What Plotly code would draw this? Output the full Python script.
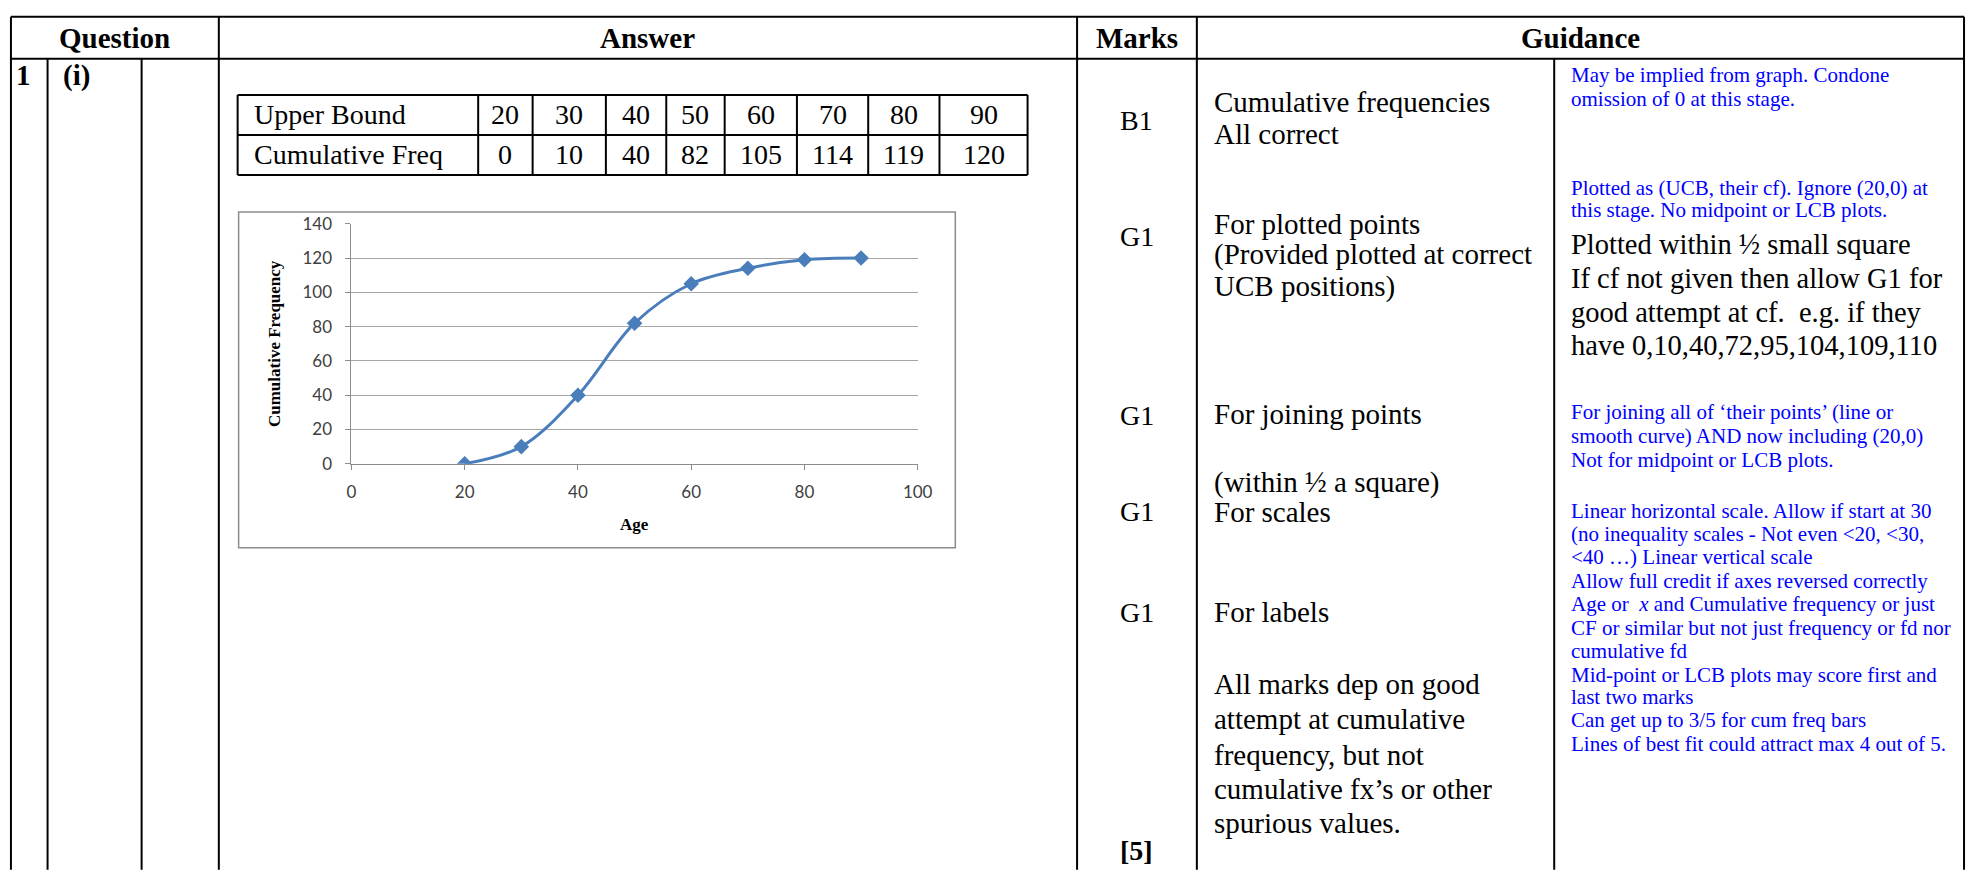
import plotly.graph_objects as go

W, H = 1982, 871

# ---------------- data ----------------
upper_bound = [20, 30, 40, 50, 60, 70, 80, 90]
cum_freq = [0, 10, 40, 82, 105, 114, 119, 120]
x_tick_vals = [0, 20, 40, 60, 80, 100]
y_tick_vals = [0, 20, 40, 60, 80, 100, 120, 140]
row_labels = ["Upper Bound", "Cumulative Freq"]
headers = ["Question", "Answer", "Marks", "Guidance"]
marks = ["B1", "G1", "G1", "G1", "G1"]
total_mark = "[5]"

answer_lines = [
    "Cumulative frequencies", "All correct",
    "For plotted points", "(Provided plotted at correct", "UCB positions)",
    "For joining points", "(within ½ a square)", "For scales", "For labels",
    "All marks dep on good", "attempt at cumulative", "frequency, but not",
    "cumulative fx’s or other", "spurious values.",
]
guidance_lines = [
    ("May be implied from graph. Condone", "blue"),
    ("omission of 0 at this stage.", "blue"),
    ("Plotted as (UCB, their cf). Ignore (20,0) at", "blue"),
    ("this stage. No midpoint or LCB plots.", "blue"),
    ("Plotted within ½ small square", "black"),
    ("If cf not given then allow G1 for", "black"),
    ("good attempt at cf.  e.g. if they", "black"),
    ("have 0,10,40,72,95,104,109,110", "black"),
    ("For joining all of ‘their points’ (line or", "blue"),
    ("smooth curve) AND now including (20,0)", "blue"),
    ("Not for midpoint or LCB plots.", "blue"),
    ("Linear horizontal scale. Allow if start at 30", "blue"),
    ("(no inequality scales - Not even &lt;20, &lt;30,", "blue"),
    ("&lt;40 …) Linear vertical scale", "blue"),
    ("Allow full credit if axes reversed correctly", "blue"),
    ("Age or  <i>x</i> and Cumulative frequency or just", "blue"),
    ("CF or similar but not just frequency or fd nor", "blue"),
    ("cumulative fd", "blue"),
    ("Mid-point or LCB plots may score first and", "blue"),
    ("last two marks", "blue"),
    ("Can get up to 3/5 for cum freq bars", "blue"),
    ("Lines of best fit could attract max 4 out of 5.", "blue"),
]

# ---------------- layout geometry (pixels) ----------------
answer_y = [93, 126, 218, 250, 282, 413, 483, 513, 616, 690, 726, 762, 797, 832]
marks_y = [112, 231, 414, 513, 616]
guid_y = [66, 90, 181, 204, 239, 274, 309, 343, 411, 435, 460, 512, 536, 560,
          584, 608, 632, 656, 680, 703, 727, 751]
tbl_cols = [235, 478, 533, 607, 668, 727, 800, 872, 944, 1033]
tbl_rows = [86, 127, 168]

SERIF = "Liberation Serif"
BLUE = "#0000FF"
CHART_BLUE = "#4A7EBB"

L, R, TOP, HDR, BOT = 6, 1979, 6, 49, 880
C_Q1, C_Q2, C_ANS, C_MK, C_GD, C_GSPLIT = 43, 138, 216, 1083, 1204, 1565


def px(x):
    return x / W


def py(y):
    return 1 - y / H


shapes = []
annos = []


def hline(x0, x1, y, w=2, c="black"):
    shapes.append(dict(type="line", xref="paper", yref="paper", x0=px(x0), x1=px(x1),
                       y0=py(y), y1=py(y), line=dict(color=c, width=w)))


def vline(x, y0, y1, w=2, c="black"):
    shapes.append(dict(type="line", xref="paper", yref="paper", x0=px(x), x1=px(x),
                       y0=py(y0), y1=py(y1), line=dict(color=c, width=w)))


def text(x, y, s, size=29, color="black", anchor="left", bold=False):
    if bold:
        s = "<b>" + s + "</b>"
    annos.append(dict(x=px(x), y=py(y), xref="paper", yref="paper", text=s,
                      showarrow=False, xanchor=anchor, yanchor="middle",
                      font=dict(family=SERIF, size=size, color=color)))


# outer table grid
hline(L, R, TOP)
hline(L, R, HDR)
for x in [L, C_ANS, C_MK, C_GD, R]:
    vline(x, TOP, BOT)
for x in [C_Q1, C_Q2, C_GSPLIT]:
    vline(x, HDR, BOT)

# headers
hdr_x = [(L + C_ANS) / 2, (C_ANS + C_MK) / 2, (C_MK + C_GD) / 2, (C_GD + R) / 2]
for hx, h in zip(hdr_x, headers):
    text(hx, 28, h, size=29, anchor="center", bold=True)

text(19, 66, "1", size=29, anchor="center", bold=True)
text(C_Q1 + 14, 66, "(i)", size=29, anchor="left", bold=True)

# small data table
for y in tbl_rows:
    hline(tbl_cols[0], tbl_cols[-1], y)
for x in tbl_cols:
    vline(x, tbl_rows[0], tbl_rows[-1])
row_vals = [upper_bound, cum_freq]
for r in range(2):
    yc = (tbl_rows[r] + tbl_rows[r + 1]) / 2
    text(tbl_cols[0] + 15, yc, row_labels[r], size=28)
    for c, v in enumerate(row_vals[r]):
        xc = (tbl_cols[c + 1] + tbl_cols[c + 2]) / 2
        text(xc, yc, str(v), size=28, anchor="center")

# marks column
mk_c = (C_MK + C_GD) / 2
for m, y in zip(marks, marks_y):
    text(mk_c, y, m, size=28, anchor="center")
text(mk_c, 860, total_mark, size=28, anchor="center", bold=True)

# answer text column
for s, y in zip(answer_lines, answer_y):
    text(C_GD + 15, y, s, size=29)

# guidance column
for (s, col), y in zip(guidance_lines, guid_y):
    if col == "blue":
        text(C_GSPLIT + 15, y, s, size=21, color=BLUE)
    else:
        text(C_GSPLIT + 15, y, s, size=28.5, color="black")

# chart frame
shapes.append(dict(type="rect", xref="paper", yref="paper", x0=px(236), x1=px(960),
                   y0=py(550), y1=py(206), line=dict(color="#8c8c8c", width=1.5),
                   fillcolor="rgba(0,0,0,0)"))

# axis titles
annos.append(dict(x=px(273), y=py(341), xref="paper", yref="paper",
                  text="<b>Cumulative Frequency</b>", textangle=-90, showarrow=False,
                  xanchor="center", yanchor="middle",
                  font=dict(family=SERIF, size=17, color="black")))
annos.append(dict(x=px(636), y=py(526), xref="paper", yref="paper",
                  text="<b>Age</b>", showarrow=False, xanchor="center", yanchor="middle",
                  font=dict(family=SERIF, size=17, color="black")))

fig = go.Figure()
fig.add_trace(go.Scatter(
    x=upper_bound, y=cum_freq, mode="lines+markers",
    line=dict(color=CHART_BLUE, width=3, shape="spline", smoothing=1),
    marker=dict(symbol="diamond", size=12, color=CHART_BLUE),
    showlegend=False, hoverinfo="skip",
))

tick_font = dict(family="Lato", size=17, color="#404040")
fig.update_layout(
    width=W, height=H, margin=dict(l=0, r=0, t=0, b=0),
    paper_bgcolor="white", plot_bgcolor="white",
    shapes=shapes, annotations=annos,
    xaxis=dict(domain=[px(350), px(922)], range=[0, 100], tickvals=x_tick_vals,
               showgrid=False, zeroline=False, showline=True, linecolor="#8c8c8c",
               linewidth=1, ticks="outside", ticklen=5, tickcolor="#8c8c8c",
               tickfont=tick_font, ticklabelstandoff=8, fixedrange=True),
    yaxis=dict(domain=[py(464), py(218)], range=[0, 140], tickvals=y_tick_vals,
               showgrid=True, gridcolor="#a6a6a6", gridwidth=1, zeroline=False,
               showline=True, linecolor="#8c8c8c", linewidth=1, ticks="outside",
               ticklen=5, tickcolor="#8c8c8c", tickfont=tick_font,
               ticklabelstandoff=10, fixedrange=True),
)

fig.write_html("out.html", config={"displayModeBar": False},
               post_script="document.body.style.margin='0';document.body.style.overflow='hidden';")
